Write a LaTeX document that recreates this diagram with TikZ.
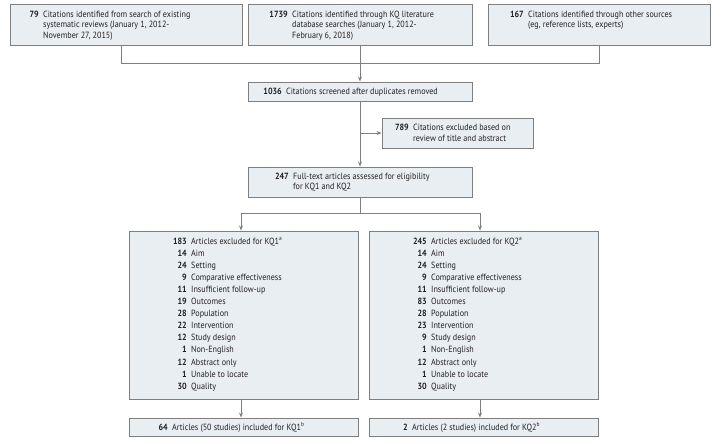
\documentclass[tikz,border=0pt]{standalone}
\usepackage{fontspec}
\setmainfont{PT Sans}[FakeStretch=0.9]
\usetikzlibrary{arrows.meta}
\definecolor{boxfill}{HTML}{E9EEF2}
\definecolor{boxline}{HTML}{7F7F7F}
\definecolor{txt}{HTML}{231F20}
\tikzset{
  flowbox/.style={draw=boxline, fill=boxfill, line width=0.9pt, inner sep=0pt, rectangle},
  conn/.style={draw=boxline, line width=0.9pt},
  arr/.style={conn, -{Stealth[length=5pt,width=4pt]}},
  num/.style={anchor=base east, inner sep=0pt, font=\fontsize{9}{10}\selectfont\bfseries, text=txt},
  lbl/.style={anchor=base west, inner sep=0pt, font=\fontsize{9}{10}\selectfont, text=txt},
}
\begin{document}
\begin{tikzpicture}[x=1pt,y=-1pt]
\useasboundingbox (0,0) rectangle (725,444);
% boxes
\node[flowbox, minimum width=232pt, minimum height=41pt] (b1) at (126,24.5) {};
\node[flowbox, minimum width=224pt, minimum height=41pt] (b2) at (360,24.5) {};
\node[flowbox, minimum width=222pt, minimum height=41pt] (b3) at (599,24.5) {};
\node[flowbox, minimum width=224pt, minimum height=19pt] (b4) at (360,91.5) {};
\node[flowbox, minimum width=151pt, minimum height=30pt] (b5) at (457.5,133) {};
\node[flowbox, minimum width=224pt, minimum height=30pt] (b6) at (360,182) {};
\node[flowbox, minimum width=229pt, minimum height=168pt] (b7) at (243.5,315) {};
\node[flowbox, minimum width=229pt, minimum height=168pt] (b8) at (483.5,315) {};
\node[flowbox, minimum width=229pt, minimum height=18pt] (b9) at (243.5,427) {};
\node[flowbox, minimum width=229pt, minimum height=18pt] (b10) at (483.5,427) {};
% connector coordinates
\coordinate (jL) at (121,63);
\coordinate (jR) at (599,63);
\coordinate (kL) at (241,213);
\coordinate (kR) at (480,213);
\coordinate (kM) at (360,213);
% connectors
\draw[conn] (b1.south -| jL) -- (jL) -- (jR) -- (b3.south);
\draw[arr] (b2.south) -- (b4.north);
\draw[arr] (b4.south) -- (b6.north);
\draw[arr] (b4.south |- b5.west) -- (b5.west);
\draw[conn] (b6.south) -- (kM);
\draw[conn] (kL) -- (kR);
\draw[arr] (kL) -- (kL |- b7.north);
\draw[arr] (kR) -- (kR |- b8.north);
\draw[arr] (kL |- b7.south) -- (kL |- b9.north);
\draw[arr] (kR |- b8.south) -- (kR |- b10.north);
% texts box 1
\node[num] (t1n) at (39,17.5) {79};
\node[lbl] (t1a) at (43,17.5) {Citations identified from search of existing};
\node[lbl] (t1b) at (43,28) {systematic reviews (January 1, 2012-};
\node[lbl] (t1c) at (43,38.5) {November 27, 2015)};
% box 2
\node[num] (t2n) at (288,17.5) {1739};
\node[lbl] (t2a) at (292,17.5) {Citations identified through KQ literature};
\node[lbl] (t2b) at (292,28) {database searches (January 1, 2012-};
\node[lbl] (t2c) at (292,38.5) {February 6, 2018)};
% box 3
\node[num] (t3n) at (524,17.5) {167};
\node[lbl] (t3a) at (528,17.5) {Citations identified through other sources};
\node[lbl] (t3b) at (528,28) {(eg, reference lists, experts)};
% box 4
\node[num] (t4n) at (282,94.5) {1036};
\node[lbl] (t4a) at (286,94.5) {Citations screened after duplicates removed};
% box 5
\node[num] (t5n) at (409,130) {789};
\node[lbl] (t5a) at (413,130) {Citations excluded based on};
\node[lbl] (t5b) at (413,141) {review of title and abstract};
% box 6
\node[num] (t6n) at (289,179) {247};
\node[lbl] (t6a) at (293,179) {Full-text articles assessed for eligibility};
\node[lbl] (t6b) at (293,189.5) {for KQ1 and KQ2};
% KQ1 list
\foreach \n/\t [count=\i from 0] in {183/{Articles excluded for KQ1\textsuperscript{a}},14/Aim,24/Setting,9/Comparative effectiveness,11/Insufficient follow-up,19/Outcomes,28/Population,22/Intervention,12/Study design,1/Non-English,12/Abstract only,1/Unable to locate,30/Quality}{
  \node[num] (l1n\i) at (187,244+12.1*\i) {\n};
  \node[lbl] (l1t\i) at (191,244+12.1*\i) {\t};
}
% KQ2 list
\foreach \n/\t [count=\i from 0] in {245/{Articles excluded for KQ2\textsuperscript{a}},14/Aim,24/Setting,9/Comparative effectiveness,11/Insufficient follow-up,83/Outcomes,28/Population,23/Intervention,9/Study design,1/Non-English,12/Abstract only,1/Unable to locate,30/Quality}{
  \node[num] (l2n\i) at (427,244+12.1*\i) {\n};
  \node[lbl] (l2t\i) at (431,244+12.1*\i) {\t};
}
% final boxes
\node[num] (f1n) at (168,430.5) {64};
\node[lbl] (f1t) at (172,430.5) {Articles (50 studies) included for KQ1\textsuperscript{b}};
\node[num] (f2n) at (408,430.5) {2};
\node[lbl] (f2t) at (412,430.5) {Articles (2 studies) included for KQ2\textsuperscript{b}};
\end{tikzpicture}
\end{document}
